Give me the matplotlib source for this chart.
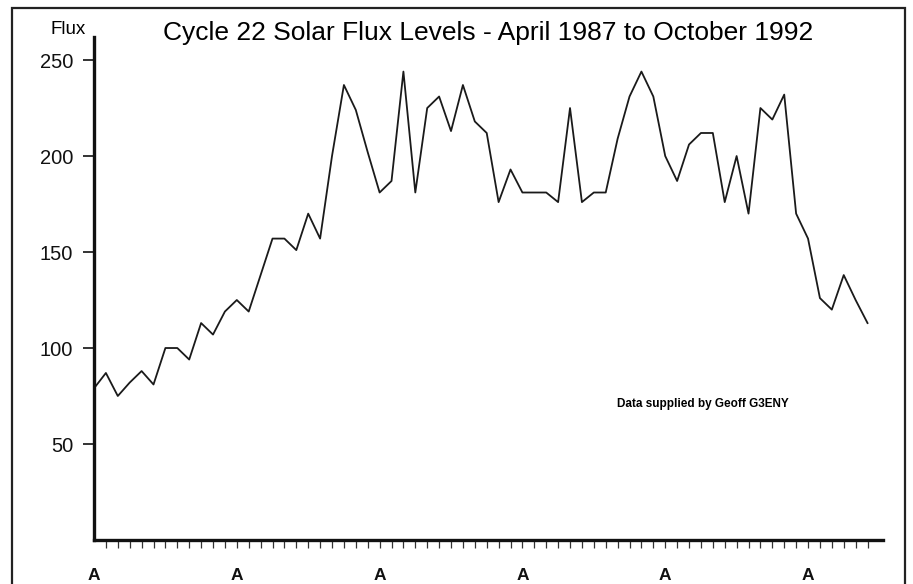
import matplotlib.pyplot as plt
from matplotlib.patches import Rectangle

plt.rcParams['font.family'] = ['Liberation Sans', 'DejaVu Sans']

# Monthly solar flux, April 1987 onwards
flux = [79, 87, 75, 82, 88, 81, 100, 100, 94, 113,
        107, 119, 125, 119, 138, 157, 157, 151, 170, 157,
        200, 237, 224, 202, 181, 187, 244, 181, 225, 231,
        213, 237, 218, 212, 176, 193, 181, 181, 181, 176,
        225, 176, 181, 181, 209, 231, 244, 231, 200, 187,
        206, 212, 212, 176, 200, 170, 225, 219, 232, 170,
        157, 126, 120, 138, 125, 113]
months = list(range(len(flux)))
april_pos = [0, 12, 24, 36, 48, 60]
april_labels = ['A'] * len(april_pos)
yticks = [50, 100, 150, 200, 250]

fig = plt.figure(figsize=(9.13, 5.84), dpi=100)
ax = fig.add_axes([94 / 913, 44 / 584, 789 / 913, 503 / 584])

ax.plot(months, flux, color='#1a1a1a', lw=1.3)

ax.set_xlim(0, 66.3)
ax.set_ylim(0, 262)

for side in ['top', 'right']:
    ax.spines[side].set_visible(False)
for side in ['left', 'bottom']:
    ax.spines[side].set_linewidth(2.4)
    ax.spines[side].set_color('#111111')

ax.set_yticks(yticks)
ax.set_yticklabels([str(v) for v in yticks], fontsize=14.5)
ax.tick_params(axis='y', length=8, width=1.2, pad=7, colors='#111111')

# month ticks, with an "A" under every April
ax.xaxis.remove_overlapping_locs = False
ax.set_xticks(april_pos)
ax.set_xticklabels(april_labels, fontsize=12.5, fontweight='bold')
ax.set_xticks(range(1, 66), minor=True)
ax.tick_params(axis='x', which='major', length=0, pad=20.5, colors='#111111')
ax.tick_params(axis='x', which='minor', length=6, width=0.9, color='#333333')

fig.text(86 / 913, 1 - 29 / 584, 'Flux', fontsize=13.5, ha='right', va='center')
fig.text(488 / 913, 1 - 33 / 584,
         'Cycle 22 Solar Flux Levels - April 1987 to October 1992',
         fontsize=19, ha='center', va='center')
fig.text(703 / 913, 1 - 404 / 584, 'Data supplied by Geoff G3ENY', fontsize=8.5,
         fontweight='bold', ha='center', va='center')

# outer frame around the chart
fig.patches.append(Rectangle((12 / 913, -0.02), 893 / 913, 1 - 8 / 584 + 0.02,
                             transform=fig.transFigure, fill=False,
                             lw=1.6, edgecolor='#222222'))

fig.savefig('out.png', dpi=100)
